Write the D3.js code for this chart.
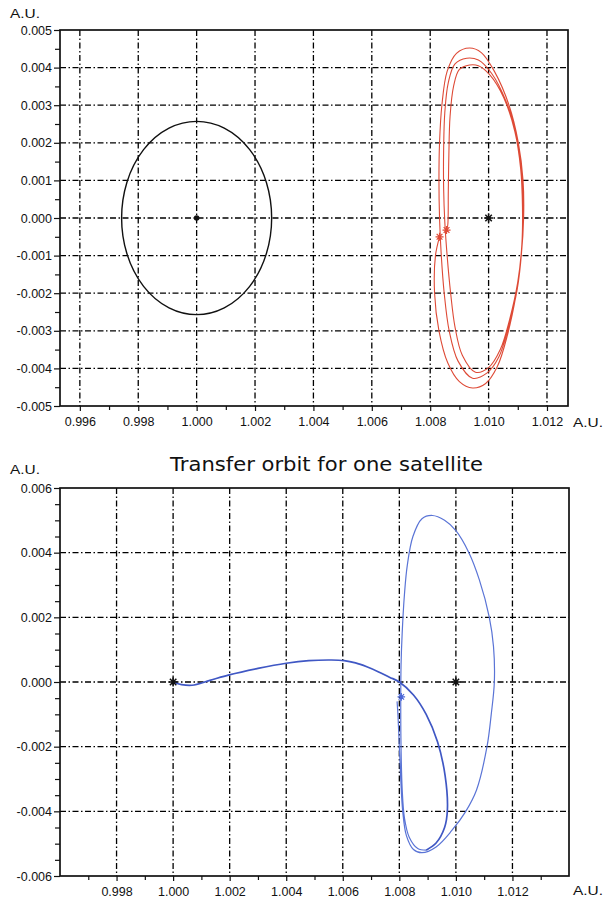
<!DOCTYPE html>
<html>
<head>
<meta charset="utf-8">
<script src="https://cdn.jsdelivr.net/npm/d3@7"></script>
<style>
  html, body { margin: 0; padding: 0; background: #fff; }
  svg { display: block; }
  .tick text { font-family: "Liberation Sans Narrow", "Arial Narrow", "Liberation Sans", sans-serif; font-size: 12.5px; fill: #111; }
</style>
</head>
<body>
<svg id="chart" width="607" height="901"></svg>
<script>
// ---- axis ticks (AU) ----
const topXTicks = [0.996, 0.998, 1.000, 1.002, 1.004, 1.006, 1.008, 1.010, 1.012];
const topXMinor = [0.997, 0.999, 1.001, 1.003, 1.005, 1.007, 1.009, 1.011];
const topYTicks = [-0.005, -0.004, -0.003, -0.002, -0.001, 0.000, 0.001, 0.002, 0.003, 0.004, 0.005];
const topYMinor = [-0.0045, -0.0035, -0.0025, -0.0015, -0.0005, 0.0005, 0.0015, 0.0025, 0.0035, 0.0045];
const topXDomain = [0.99532, 1.01272];
const topYDomain = [-0.005, 0.005];

const botXTicks = [0.998, 1.000, 1.002, 1.004, 1.006, 1.008, 1.010, 1.012];
const botXMinor = [0.997, 0.999, 1.001, 1.003, 1.005, 1.007, 1.009, 1.011, 1.013];
const botYTicks = [-0.006, -0.004, -0.002, 0.000, 0.002, 0.004, 0.006];
const botYMinor = [-0.0055, -0.005, -0.0045, -0.0035, -0.003, -0.0025, -0.0015, -0.001, -0.0005,
                   0.0005, 0.001, 0.0015, 0.0025, 0.003, 0.0035, 0.0045, 0.005, 0.0055];
const botXDomain = [0.996, 1.014];
const botYDomain = [-0.006, 0.006];

// ---- upper panel: reference orbit (circle) and halo loops ----
const circleCenter = [1.000, 0.000];
const circleRadius = 0.00257;
const haloCenterStar = [1.010, 0.000];
const redStars = [[1.00832, -0.00050], [1.00856, -0.00032]];
const haloLoops = [
  [1.00832,-0.00050],[1.00818,-0.00100],[1.00815,-0.00200],[1.00830,-0.00300],[1.00860,-0.00385],
  [1.00900,-0.00435],[1.00945,-0.00452],[1.00990,-0.00440],[1.01030,-0.00395],[1.01065,-0.00310],
  [1.01095,-0.00200],[1.01112,-0.00100],[1.01120,0.00000],[1.01118,0.00100],[1.01102,0.00200],
  [1.01070,0.00300],[1.01020,0.00390],[1.00975,0.00440],[1.00935,0.00452],[1.00890,0.00438],
  [1.00858,0.00390],[1.00840,0.00300],[1.00832,0.00200],[1.00830,0.00100],[1.00832,0.00000],
  [1.00838,-0.00100],[1.00848,-0.00200],[1.00865,-0.00300],[1.00895,-0.00380],[1.00945,-0.00426],
  [1.00995,-0.00412],[1.01035,-0.00370],[1.01068,-0.00290],[1.01098,-0.00190],[1.01113,-0.00090],
  [1.01118,0.00010],[1.01115,0.00110],[1.01098,0.00210],[1.01060,0.00310],[1.01010,0.00385],
  [1.00965,0.00420],[1.00925,0.00425],[1.00885,0.00410],[1.00862,0.00360],[1.00850,0.00280],
  [1.00846,0.00180],[1.00846,0.00080],[1.00850,-0.00010],
  [1.00858,-0.00100],[1.00870,-0.00200],[1.00885,-0.00290],[1.00910,-0.00365],[1.00955,-0.00410],
  [1.01000,-0.00398],[1.01040,-0.00350],[1.01072,-0.00270],[1.01100,-0.00170],[1.01114,-0.00070],
  [1.01116,0.00030],[1.01110,0.00130],[1.01090,0.00230],[1.01052,0.00320],[1.01005,0.00380],
  [1.00965,0.00405],[1.00935,0.00407],[1.00900,0.00395],[1.00880,0.00350],[1.00868,0.00270],
  [1.00864,0.00170],[1.00862,0.00070],[1.00860,-0.00020],[1.00856,-0.00032]
];

// ---- lower panel: transfer trajectory ----
const botStars = [[1.000, 0.000], [1.010, 0.000]];
const blueStar = [1.00807, -0.00046];
const transferLeg = [
  [1.00000,0.00000],[1.00030,-0.00008],[1.00067,-0.00010],[1.00130,0.00005],[1.00198,0.00022],
  [1.00300,0.00042],[1.00400,0.00058],[1.00480,0.00066],[1.00560,0.00068],[1.00605,0.00066],
  [1.00645,0.00059],[1.00685,0.00047],[1.00725,0.00032],[1.00765,0.00015],[1.00800,0.00000],
  [1.00850,-0.00040],[1.00895,-0.00100],[1.00935,-0.00185],[1.00962,-0.00290],[1.00970,-0.00395],
  [1.00960,-0.00450],[1.00930,-0.00498],[1.00895,-0.00520]
];
const haloArrival = [
  [1.00895,-0.00520],[1.00865,-0.00515],[1.00835,-0.00480],[1.00818,-0.00420],[1.00810,-0.00330],
  [1.00806,-0.00200],[1.00805,-0.00080],[1.00806,0.00050],[1.00810,0.00150],[1.00818,0.00270],
  [1.00828,0.00360],[1.00848,0.00450],[1.00880,0.00505],[1.00917,0.00515],[1.00960,0.00500],
  [1.01000,0.00468],[1.01046,0.00400],[1.01083,0.00316],[1.01118,0.00201],[1.01133,0.00110],
  [1.01136,0.00000],[1.01125,-0.00100],[1.01110,-0.00200],[1.01073,-0.00334],[1.01035,-0.00400],
  [1.00985,-0.00460],[1.00930,-0.00510],[1.00880,-0.00528],[1.00850,-0.00518],[1.00825,-0.00475],
  [1.00812,-0.00400],[1.00805,-0.00300],[1.00800,-0.00200],[1.00795,-0.00100],[1.00792,-0.00060]
];

const svg = d3.select("#chart");
svg.append("rect").attr("width", 607).attr("height", 901).attr("fill", "#fff");

const fmt = d3.formatLocale({decimal: ".", thousands: ",", grouping: [3], currency: ["", ""], minus: "-"}).format(".3f");

function star(sel, x, y, r, color, width) {
  const p = d3.path();
  p.moveTo(x - r, y); p.lineTo(x + r, y);
  p.moveTo(x, y - r); p.lineTo(x, y + r);
  const d = r * 0.72;
  p.moveTo(x - d, y - d); p.lineTo(x + d, y + d);
  p.moveTo(x - d, y + d); p.lineTo(x + d, y - d);
  sel.append("path").attr("d", p.toString()).attr("stroke", color)
    .attr("stroke-width", width).attr("fill", "none");
}

function panel(opt) {
  const {left, top, right, bottom} = opt;
  const x = d3.scaleLinear().domain(opt.xDomain).range([left, right]);
  const y = d3.scaleLinear().domain(opt.yDomain).range([bottom, top]);
  const g = svg.append("g");

  // dash-dot grid
  const grid = g.append("g").attr("stroke", "#000").attr("stroke-width", 1.3)
    .attr("stroke-dasharray", "6,2.5,1.5,2.5").attr("fill", "none");
  grid.selectAll("line.v").data(opt.xTicks).join("line").attr("class", "v")
    .attr("x1", d => x(d)).attr("x2", d => x(d)).attr("y1", top).attr("y2", bottom);
  grid.selectAll("line.h").data(opt.yTicks.filter(d => y(d) > top + 1 && y(d) < bottom - 1))
    .join("line").attr("class", "h")
    .attr("x1", left).attr("x2", right).attr("y1", d => y(d)).attr("y2", d => y(d));

  // axes
  const xa = g.append("g").attr("transform", `translate(0,${bottom})`)
    .call(d3.axisBottom(x).tickValues(opt.xTicks).tickFormat(fmt).tickSize(5).tickPadding(opt.xPad));
  const xm = g.append("g").attr("transform", `translate(0,${bottom})`)
    .call(d3.axisBottom(x).tickValues(opt.xMinor).tickFormat("").tickSize(4));
  const ya = g.append("g").attr("transform", `translate(${left},0)`)
    .call(d3.axisLeft(y).tickValues(opt.yTicks).tickFormat(fmt).tickSize(6).tickPadding(2));
  const ym = g.append("g").attr("transform", `translate(${left},0)`)
    .call(d3.axisLeft(y).tickValues(opt.yMinor).tickFormat("").tickSize(5));
  [xa, xm, ya, ym].forEach(a => {
    a.select(".domain").remove();
    a.selectAll(".tick line").attr("stroke", "#111").attr("stroke-width", 1.2);
  });

  // frame
  g.append("rect").attr("x", left).attr("y", top).attr("width", right - left).attr("height", bottom - top)
    .attr("fill", "none").attr("stroke", "#111").attr("stroke-width", 1.7);

  return {x, y, g};
}

const line = (sx, sy) => d3.line().x(d => sx(d[0])).y(d => sy(d[1])).curve(d3.curveCatmullRom.alpha(0.5));

// ================= upper panel =================
const P1 = panel({
  left: 60, top: 30, right: 568, bottom: 406,
  xDomain: topXDomain, yDomain: topYDomain,
  xTicks: topXTicks, xMinor: topXMinor, yTicks: topYTicks, yMinor: topYMinor, xPad: 6
});

P1.g.append("ellipse")
  .attr("cx", P1.x(circleCenter[0])).attr("cy", P1.y(circleCenter[1]))
  .attr("rx", P1.x(circleCenter[0] + circleRadius) - P1.x(circleCenter[0]))
  .attr("ry", P1.y(circleCenter[1]) - P1.y(circleCenter[1] + circleRadius))
  .attr("fill", "none").attr("stroke", "#111").attr("stroke-width", 1.4);
P1.g.append("circle").attr("cx", P1.x(circleCenter[0])).attr("cy", P1.y(circleCenter[1]))
  .attr("r", 2.8).attr("fill", "#111");

P1.g.append("path").datum(haloLoops).attr("d", line(P1.x, P1.y))
  .attr("fill", "none").attr("stroke", "#de4a36").attr("stroke-width", 1.1);
redStars.forEach(s => star(P1.g, P1.x(s[0]), P1.y(s[1]), 4, "#e04a36", 1.2));
star(P1.g, P1.x(haloCenterStar[0]), P1.y(haloCenterStar[1]), 4.5, "#111", 1.5);

// ================= lower panel =================
const P2 = panel({
  left: 60, top: 488, right: 569, bottom: 876,
  xDomain: botXDomain, yDomain: botYDomain,
  xTicks: botXTicks, xMinor: botXMinor, yTicks: botYTicks, yMinor: botYMinor, xPad: 6
});

P2.g.append("path").datum(haloArrival).attr("d", line(P2.x, P2.y))
  .attr("fill", "none").attr("stroke", "#5a74d6").attr("stroke-width", 1.2);
P2.g.append("path").datum(transferLeg).attr("d", line(P2.x, P2.y))
  .attr("fill", "none").attr("stroke", "#3f57c4").attr("stroke-width", 1.7);
botStars.forEach(s => star(P2.g, P2.x(s[0]), P2.y(s[1]), 4.5, "#111", 1.5));
star(P2.g, P2.x(blueStar[0]), P2.y(blueStar[1]), 3.8, "#4a66d8", 1.2);

// ================= labels =================
const lab = svg.append("g").attr("font-family", "'Liberation Sans', Arial, sans-serif")
  .attr("font-size", 13).attr("fill", "#111");
[[10, 18], [573, 427], [10, 474], [573, 895]].forEach(([lx, ly]) => {
  lab.append("text").attr("x", lx).attr("y", ly).attr("textLength", 30)
    .attr("lengthAdjust", "spacingAndGlyphs").text("A.U.");
});

svg.append("text").attr("x", 170).attr("y", 471)
  .attr("font-family", "'DejaVu Sans', Verdana, sans-serif").attr("font-size", 20)
  .attr("textLength", 313).attr("lengthAdjust", "spacingAndGlyphs")
  .attr("fill", "#111").text("Transfer orbit for one satellite");
</script>
</body>
</html>
